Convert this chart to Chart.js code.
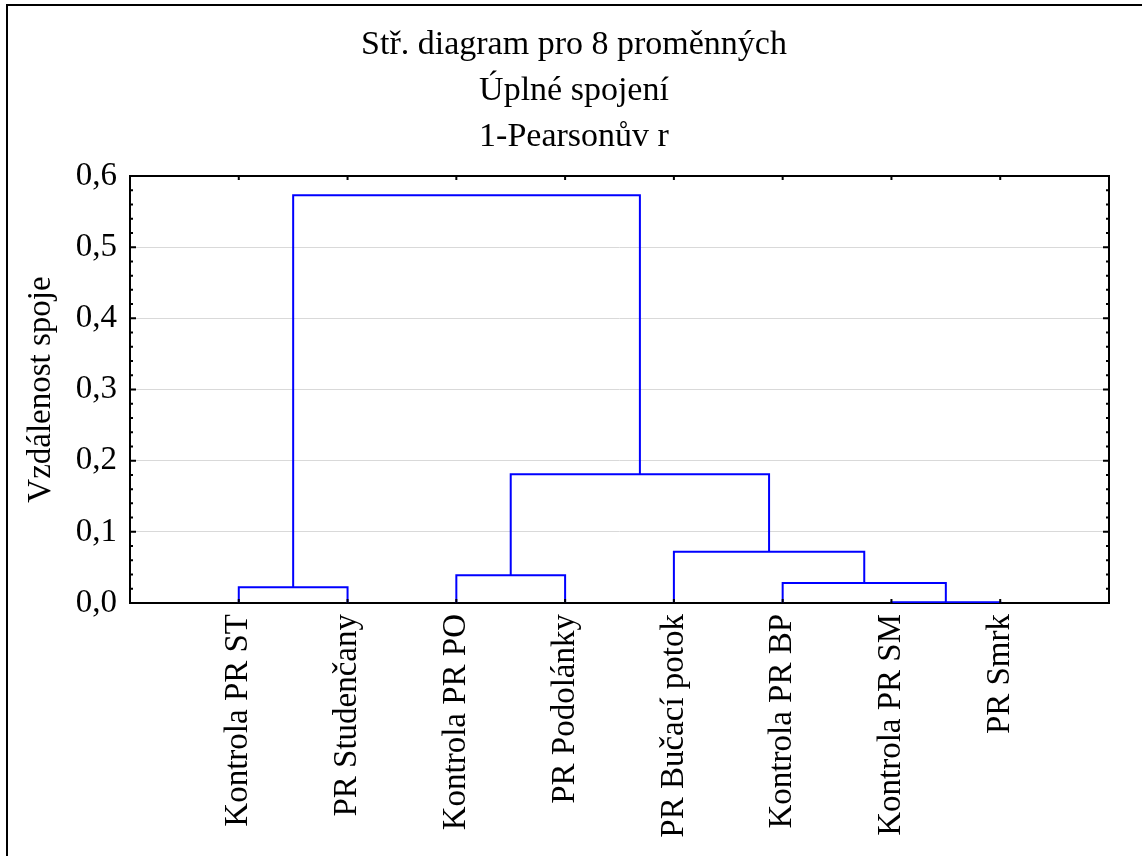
<!DOCTYPE html>
<html>
<head>
<meta charset="utf-8">
<script src="https://cdn.jsdelivr.net/npm/chart.js@4.4.0/dist/chart.umd.min.js"></script>
<style>
    html, body { margin: 0; padding: 0; background: #fff; }
    #wrap { width: 1142px; height: 856px; }
</style>
</head>
<body>
<div id="wrap"><canvas id="tree" width="1142" height="856"></canvas></div>
<script>
const titleLines = ['Stř. diagram pro 8 proměnných', 'Úplné spojení', '1-Pearsonův r'];
const axisTitle = 'Vzdálenost spoje';

const leaves = [
    'Kontrola PR ST',
    'PR Studenčany',
    'Kontrola PR PO',
    'PR Podolánky',
    'PR Bučací potok',
    'Kontrola PR BP',
    'Kontrola PR SM',
    'PR Smrk'
];

// merge k joins mergeLeft[k] and mergeRight[k]; ids >= leaves.length point to earlier merges
const mergeLeft = [6, 0, 5, 2, 4, 11, 9];
const mergeRight = [7, 1, 8, 3, 10, 12, 13];
const mergeHeight = [0.001, 0.022, 0.028, 0.039, 0.072, 0.181, 0.573];

const yTickValues = [0, 0.1, 0.2, 0.3, 0.4, 0.5, 0.6];
const yTickLabels = ['0,0', '0,1', '0,2', '0,3', '0,4', '0,5', '0,6'];

const SERIF = "'Liberation Serif', 'Times New Roman', serif";
const LINK_COLOR = '#0000ff';

// x of a leaf is its position (1..n), x of a merge is the middle of its two children
function buildLinks() {
    const nodeX = leaves.map((_, i) => i + 1);
    const nodeY = leaves.map(() => 0);
    const sets = [];

    mergeHeight.forEach((h, k) => {
        const a = mergeLeft[k];
        const b = mergeRight[k];
        sets.push({
            data: [
                { x: nodeX[a], y: nodeY[a] },
                { x: nodeX[a], y: h },
                { x: nodeX[b], y: h },
                { x: nodeX[b], y: nodeY[b] }
            ],
            borderColor: LINK_COLOR,
            borderWidth: 2,
            pointRadius: 0,
            showLine: true,
            fill: false,
            tension: 0
        });
        nodeX.push((nodeX[a] + nodeX[b]) / 2);
        nodeY.push(h);
    });
    return sets;
}

const framePlugin = {
    id: 'statFrame',
    beforeDraw(chart) {
        const ctx = chart.ctx;
        ctx.save();
        ctx.fillStyle = '#fff';
        ctx.fillRect(0, 0, chart.width, chart.height);
        // outer page frame (left and top only)
        ctx.strokeStyle = '#000';
        ctx.lineWidth = 2;
        ctx.beginPath();
        ctx.moveTo(7, chart.height);
        ctx.lineTo(7, 5);
        ctx.lineTo(chart.width, 5);
        ctx.stroke();
        ctx.restore();
    },
    beforeDatasetsDraw(chart) {
        const { ctx, chartArea: a } = chart;
        ctx.save();
        ctx.strokeStyle = '#000';
        ctx.lineWidth = 2;
        ctx.strokeRect(a.left, a.top, a.right - a.left, a.bottom - a.top);
        ctx.restore();
    },
    afterDatasetsDraw(chart) {
        const { ctx, chartArea: a } = chart;
        const ys = chart.scales.y;
        const xs = chart.scales.x;
        ctx.save();
        ctx.strokeStyle = '#000';
        ctx.lineWidth = 2;
        ctx.beginPath();
        // minor ticks every 0.02, major every 0.1, pointing inwards on both sides
        for (let k = 0; k <= 30; k++) {
            const y = ys.getPixelForValue(k / 50);
            const len = k % 5 === 0 ? 6 : 3;
            ctx.moveTo(a.left, y);
            ctx.lineTo(a.left + len, y);
            ctx.moveTo(a.right, y);
            ctx.lineTo(a.right - len, y);
        }
        leaves.forEach((_, i) => {
            const x = xs.getPixelForValue(i + 1);
            ctx.moveTo(x, a.bottom);
            ctx.lineTo(x, a.bottom - 4);
            ctx.moveTo(x, a.top);
            ctx.lineTo(x, a.top + 4);
        });
        ctx.stroke();
        ctx.restore();
    }
};

new Chart(document.getElementById('tree'), {
    type: 'scatter',
    data: { datasets: buildLinks() },
    plugins: [framePlugin],
    options: {
        responsive: false,
        animation: false,
        layout: { padding: { left: 6, right: 0, top: 0, bottom: 0 } },
        plugins: {
            legend: { display: false },
            tooltip: { enabled: false },
            title: {
                display: true,
                text: titleLines,
                color: '#000',
                font: { family: SERIF, size: 34, weight: 'normal', lineHeight: 46 / 34 },
                padding: { top: 22, bottom: 16 }
            }
        },
        scales: {
            x: {
                type: 'linear',
                min: 0,
                max: leaves.length + 1,
                afterFit: s => {
                    s.height = 253;
                    s.paddingLeft = 0;
                    s.paddingRight = 0;
                },
                grid: { display: false, drawTicks: false },
                border: { display: false },
                ticks: {
                    stepSize: 1,
                    autoSkip: false,
                    minRotation: 90,
                    maxRotation: 90,
                    padding: 11,
                    color: '#000',
                    font: { family: SERIF, size: 33 },
                    callback: v => leaves[v - 1] || ''
                }
            },
            y: {
                type: 'linear',
                min: 0,
                max: 0.6,
                afterFit: s => { s.width = 124; },
                afterBuildTicks: s => { s.ticks = yTickValues.map(v => ({ value: v })); },
                grid: { color: '#d9d9d9', lineWidth: 1, drawTicks: false },
                border: { display: false },
                title: {
                    display: true,
                    text: axisTitle,
                    color: '#000',
                    font: { family: SERIF, size: 33 },
                    padding: { top: 16, bottom: 0 }
                },
                ticks: {
                    padding: 13,
                    color: '#000',
                    font: { family: SERIF, size: 33 },
                    callback: (v, i) => yTickLabels[i]
                }
            },
            y2: {
                type: 'linear',
                position: 'right',
                afterFit: s => { s.width = 33; },
                grid: { display: false, drawTicks: false },
                border: { display: false },
                ticks: { display: false }
            }
        }
    }
});
</script>
</body>
</html>
